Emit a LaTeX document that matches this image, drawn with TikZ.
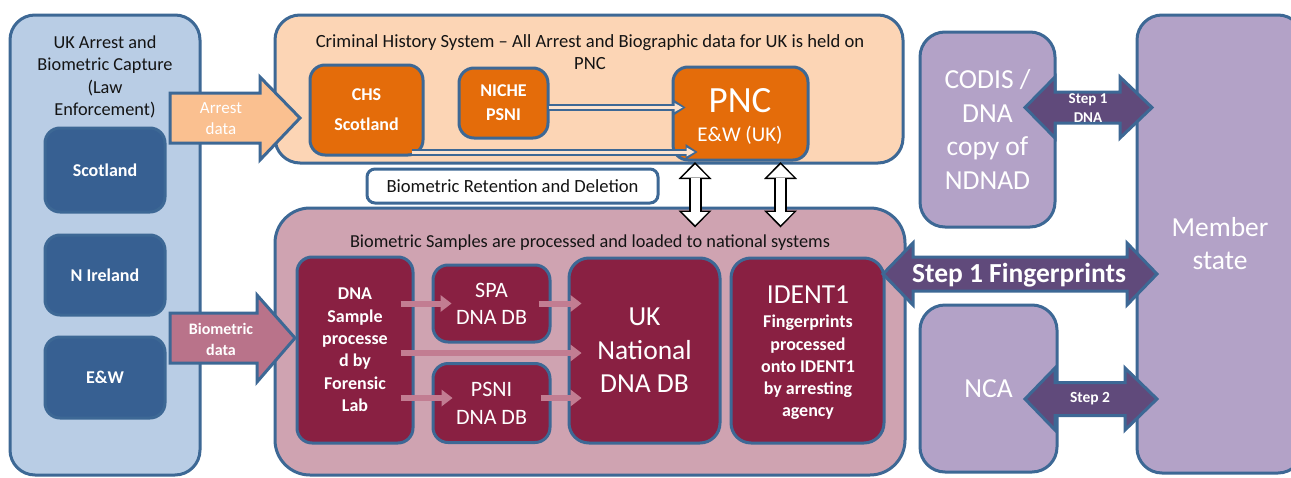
\documentclass[tikz,border=0pt]{standalone}
\usepackage{fontspec}
\setmainfont{Carlito}
\usetikzlibrary{arrows.meta,calc}
\definecolor{bd}{HTML}{3D6895}
\definecolor{lblue}{HTML}{B9CDE5}
\definecolor{dblue}{HTML}{376092}
\definecolor{lorange}{HTML}{FCD5B5}
\definecolor{orangebox}{HTML}{E46C0A}
\definecolor{arrorange}{HTML}{FAC090}
\definecolor{thinfill}{HTML}{FCE4D0}
\definecolor{lpink}{HTML}{CFA3B1}
\definecolor{maroon}{HTML}{892042}
\definecolor{bioarr}{HTML}{B9738A}
\definecolor{smallarr}{HTML}{C27D92}
\definecolor{lpurple}{HTML}{B3A2C7}
\definecolor{dpurple}{HTML}{604A7B}
\definecolor{txtdark}{HTML}{141414}
\newcommand{\setfs}[2]{\fontsize{#1pt}{#2pt}\selectfont}
\begin{document}
\begin{tikzpicture}[x=1pt,y=-1pt,
  rbox/.style={draw=bd, line width=3pt, rounded corners=#1, inner sep=0pt, align=center},
  rbox/.default=15pt,
  dtext/.style={text=txtdark, align=center, inner sep=0pt},
  wtext/.style={text=white, align=center, inner sep=0pt},
  bigarr/.style={draw=bd, line width=3pt, line join=miter},
  thinout/.style={draw=bd, line width=7pt, -{Triangle[length=12pt,width=16pt,line width=0pt]}},
  thinin/.style={draw=thinfill, line width=3pt, shorten >=3pt, -{Triangle[length=8pt,width=9pt,line width=0pt]}},
  pinkarr/.style={draw=smallarr, line width=6pt, -{Triangle[length=11pt,width=17pt,line width=0pt]}},
  vout/.style={draw=black, line width=13pt, {Triangle[length=17pt,width=33pt,line width=0pt]}-{Triangle[length=17pt,width=33pt,line width=0pt]}},
  vin/.style={draw=white, line width=9pt, shorten <=2.5pt, shorten >=2.5pt, {Triangle[length=13pt,width=26pt,line width=0pt]}-{Triangle[length=13pt,width=26pt,line width=0pt]}}
]
\useasboundingbox (0,0) rectangle (1291,477);
\fill[white] (0,0) rectangle (1291,477);

% ---------- left container ----------
\node[rbox=25pt, fill=lblue, minimum width=190pt, minimum height=460pt] (lbox) at (105,245) {};
\node[dtext, font=\setfs{18.3}{22.3}] (lhead) at (105,77) {UK Arrest and\\Biometric Capture\\(Law\\Enforcement)};
\node[rbox, fill=dblue, text=white, font=\bfseries\setfs{18}{22}, minimum width=120pt, minimum height=84pt] (scot) at (105,170) {Scotland};
\node[rbox, fill=dblue, text=white, font=\bfseries\setfs{18}{22}, minimum width=120pt, minimum height=80pt] (nire) at (105,275) {N Ireland};
\node[rbox, fill=dblue, text=white, font=\bfseries\setfs{18}{22}, minimum width=120pt, minimum height=81pt] (ew) at (105,377.5) {E\&W};

% ---------- orange container ----------
\node[rbox=25pt, fill=lorange, minimum width=628pt, minimum height=148pt] (obox) at (589,89) {};
\node[dtext, font=\setfs{18.6}{21.5}] (ohead) at (590,52) {Criminal History System -- All Arrest and Biographic data for UK is held on\\PNC};
\node[rbox, fill=orangebox, text=white, font=\bfseries\setfs{18}{30}, minimum width=113pt, minimum height=90pt] (chs) at (366.5,110) {CHS\\Scotland};
\node[rbox, fill=orangebox, text=white, font=\bfseries\setfs{18}{24}, minimum width=89pt, minimum height=70pt] (niche) at (503.5,103) {NICHE\\PSNI};
\node[rbox, fill=orangebox, minimum width=135pt, minimum height=93pt] (pnc) at (740.5,113.5) {};
\node[wtext, font=\setfs{37}{40}] (pnct) at (740,101) {PNC};
\node[wtext, font=\setfs{21}{24}] (pncs) at (740,135) {E\&W (UK)};

% thin arrows into PNC
\draw[thinout] ($(niche.east)+(-1,4.5)$) -- ($(niche.east -| pnc.west)+(14,4.5)$);
\draw[thinin] ($(niche.east)+(-1,4.5)$) -- ($(niche.east -| pnc.west)+(14,4.5)$);
\draw[thinout] ($(chs.south east)+(-13,-4.5)$) -- ($(chs.south east -| pnc.west)+(26,-4.5)$);
\draw[thinin] ($(chs.south east)+(-13,-4.5)$) -- ($(chs.south east -| pnc.west)+(26,-4.5)$);

% ---------- retention box ----------
\node[rbox=8pt, fill=white, text=txtdark, font=\setfs{18.6}{22}, minimum width=291pt, minimum height=34pt] (brd) at (512.5,186) {Biometric Retention and Deletion};

% ---------- pink container ----------
\node[rbox=35pt, fill=lpink, minimum width=630pt, minimum height=267pt] (pbox) at (590,341.5) {};
\node[dtext, font=\setfs{18.3}{21}] (phead) at (590,243) {Biometric Samples are processed and loaded to national systems};
\node[rbox, fill=maroon, text=white, font=\bfseries\setfs{18}{22.4}, minimum width=116pt, minimum height=186pt] (dna) at (355,350) {DNA\\Sample\\processe\\d by\\Forensic\\Lab};
\node[rbox, fill=maroon, text=white, font=\setfs{22}{27}, minimum width=117pt, minimum height=77pt] (spa) at (491.5,303.5) {SPA\\DNA DB};
\node[rbox, fill=maroon, text=white, font=\setfs{22}{28}, minimum width=117pt, minimum height=79pt] (psni) at (491.5,403) {PSNI\\DNA DB};
\node[rbox=20pt, fill=maroon, text=white, font=\setfs{27.5}{33.5}, minimum width=151pt, minimum height=185pt] (ukn) at (644.5,350.5) {UK\\National\\DNA DB};
\node[rbox=20pt, fill=maroon, minimum width=153pt, minimum height=185pt] (ident) at (807.5,350.5) {};
\node[wtext, font=\setfs{27.5}{30}] (identt) at (808,295) {IDENT1};
\node[wtext, font=\bfseries\setfs{18}{22.2}] (idents) at (808,367.5) {Fingerprints\\processed\\onto IDENT1\\by arresting\\agency};

% small pink arrows
\draw[pinkarr] ($(dna.east |- spa.center)+(-14,0)$) -- ($(spa.west)+(20,0)$);
\draw[pinkarr] ($(spa.east)+(-13,0)$) -- ($(spa.east -| ukn.west)+(14,0)$);
\draw[pinkarr] ($(dna.east)+(-14,3)$) -- ($(dna.east -| ukn.west)+(14,3)$);
\draw[pinkarr] ($(dna.east |- psni.center)+(-14,-5)$) -- ($(psni.west)+(21,-5)$);
\draw[pinkarr] ($(psni.east)+(-11,-5)$) -- ($(psni.east -| ukn.west)+(14,-5)$);

% vertical double arrows PNC <-> biometric systems
\coordinate (va) at ($(pnc.south west)+(23.5,0.5)$);
\coordinate (vb) at ($(pnc.south east)+(-29,0.5)$);
\coordinate (vend) at ($(pbox.north)+(0,21)$);
\draw[vout] (va) -- (va |- vend);
\draw[vin] (va) -- (va |- vend);
\draw[vout] (vb) -- (vb |- vend);
\draw[vin] (vb) -- (vb |- vend);

% ---------- big input arrows ----------
\draw[bigarr, fill=arrorange] (170,93) -- (260,93) -- (260,77) -- (300,118) -- (260,160) -- (260,143) -- (170,143) -- cycle;
\node[wtext, font=\setfs{17}{21}] (arrl) at (221,119) {Arrest\\data};
\draw[bigarr, fill=bioarr] (170,313) -- (257,313) -- (257,295) -- (295,338) -- (257,382) -- (257,363) -- (170,363) -- cycle;
\node[wtext, font=\bfseries\setfs{16}{21}] (biol) at (221,339) {Biometric\\data};

% ---------- right side ----------
\node[rbox=25pt, fill=lpurple, text=white, font=\setfs{27.5}{33.5}, minimum width=135pt, minimum height=195pt] (codis) at (987.5,129.5) {CODIS /\\DNA\\copy of\\NDNAD};
\node[rbox=25pt, fill=lpurple, text=white, font=\setfs{27.5}{33}, minimum width=137pt, minimum height=167pt] (nca) at (988.5,388.5) {NCA};
\node[rbox=25pt, fill=lpurple, text=white, font=\setfs{27.5}{33}, minimum width=166pt, minimum height=458pt] (mem) at (1220,244) {Member\\state};

% step arrows
\draw[bigarr, fill=dpurple] (1025,107.5) -- (1055,77) -- (1055,92) -- (1120,92) -- (1120,77) -- (1152,107.5) -- (1120,138) -- (1120,123) -- (1055,123) -- (1055,138) -- cycle;
\node[wtext, font=\bfseries\setfs{15}{19}] (s1d) at (1088,108.5) {Step 1\\DNA};
\draw[bigarr, fill=dpurple] (883,274) -- (913,243) -- (913,257) -- (1127,257) -- (1127,243) -- (1157,274) -- (1127,305) -- (1127,291) -- (913,291) -- (913,305) -- cycle;
\node[wtext, font=\bfseries\setfs{27.5}{30}] (s1f) at (1019,275) {Step 1 Fingerprints};
\draw[bigarr, fill=dpurple] (1025,399) -- (1055,368) -- (1055,382.5) -- (1125,382.5) -- (1125,368) -- (1157,399) -- (1125,430) -- (1125,415.5) -- (1055,415.5) -- (1055,430) -- cycle;
\node[wtext, font=\bfseries\setfs{15.5}{19}] (s2) at (1090,399) {Step 2};
\end{tikzpicture}
\end{document}
